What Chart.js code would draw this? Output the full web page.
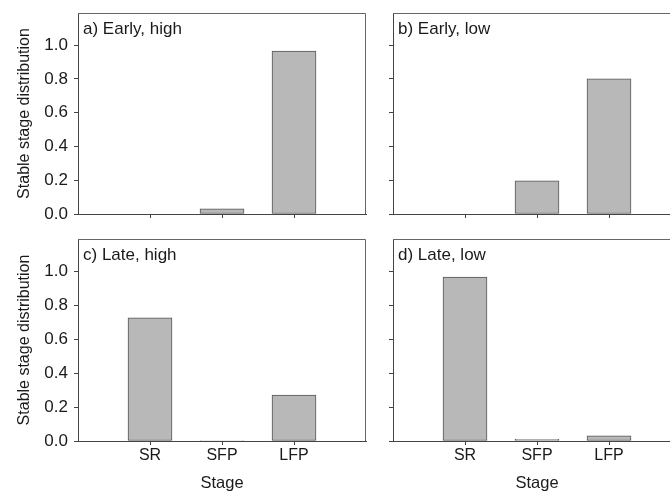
<!DOCTYPE html>
<html><head><meta charset="utf-8">
<script src="https://cdn.jsdelivr.net/npm/chart.js@4"></script>
<style>
html,body{margin:0;padding:0;background:#fff;overflow:hidden;width:670px;height:493px;position:relative}
canvas{position:absolute}
</style></head><body>
<canvas id="pa"></canvas><canvas id="pb"></canvas><canvas id="pc"></canvas><canvas id="pd"></canvas>
<script>
// ---- data ----
const stages = ['SR', 'SFP', 'LFP'];
const earlyHigh = [0, 0.03, 0.965];
const earlyLow  = [0, 0.197, 0.80];
const lateHigh  = [0.725, 0.003, 0.27];
const lateLow   = [0.965, 0.01, 0.03];
const panelLabels = ['a) Early, high', 'b) Early, low', 'c) Late, high', 'd) Late, low'];
const yTicks = [0, 0.2, 0.4, 0.6, 0.8, 1.0];
const yTitle = 'Stable stage distribution';
const xTitle = 'Stage';

const FONT = "'Liberation Sans', Arial, sans-serif";
const TXT = '#1a1a1a';
const AX = '#444';

const panels = [
  {id:'pa', vals:earlyHigh, label:panelLabels[0], left:0,   top:0,   w:370, h:230, yW:78, xH:16, pt:13, pr:4, yl:true,  xl:false},
  {id:'pb', vals:earlyLow,  label:panelLabels[1], left:380, top:0,   w:310, h:230, yW:13, xH:16, pt:13, pr:9, yl:false, xl:false},
  {id:'pc', vals:lateHigh,  label:panelLabels[2], left:0,   top:230, w:370, h:263, yW:78, xH:52, pt:9,  pr:4, yl:true,  xl:true},
  {id:'pd', vals:lateLow,   label:panelLabels[3], left:380, top:230, w:310, h:263, yW:13, xH:52, pt:9,  pr:9, yl:false, xl:true}
];

const framePlugin = {
  id:'frame',
  afterDraw(chart, args, opts){
    const {ctx, chartArea:a} = chart;
    ctx.save();
    ctx.strokeStyle = '#666';
    ctx.lineWidth = 1;
    ctx.beginPath();
    ctx.moveTo(a.left, a.top + 0.5); ctx.lineTo(a.right - 0.5, a.top + 0.5); ctx.lineTo(a.right - 0.5, a.bottom);
    ctx.stroke();
    ctx.fillStyle = TXT;
    ctx.font = '17px ' + FONT;
    ctx.textBaseline = 'alphabetic';
    ctx.textAlign = 'left';
    ctx.fillText(opts.text, a.left + 5, a.top + 21);
    ctx.restore();
  }
};

panels.forEach(p => {
  const cv = document.getElementById(p.id);
  cv.width = p.w; cv.height = p.h;
  cv.style.left = p.left + 'px'; cv.style.top = p.top + 'px';
  new Chart(cv, {
    type:'bar',
    data:{
      labels:['', ...stages, ''],
      datasets:[{
        data:[null, ...p.vals, null],
        backgroundColor:'#b8b8b8',
        borderColor:'#555',
        borderWidth:1,
        borderSkipped:false,
        barThickness:44
      }]
    },
    options:{
      responsive:false,
      animation:false,
      devicePixelRatio:1,
      layout:{padding:{top:p.pt, right:p.pr, left:0, bottom:0}},
      plugins:{legend:{display:false}, tooltip:{enabled:false}, frame:{text:p.label}},
      scales:{
        x:{
          type:'category',
          offset:false,
          afterFit: s => { s.height = p.xH; s.paddingLeft = 0; s.paddingRight = 0; },
          grid:{offset:false, drawOnChartArea:false, drawTicks:true, tickLength:4,
                tickColor: c => (c.index === 0 || c.index === 4) ? 'rgba(0,0,0,0)' : AX},
          border:{display:true, color:AX, width:1},
          ticks:{display:p.xl, color:TXT, font:{family:FONT, size:16}, padding:1, autoSkip:false, maxRotation:0},
          title:{display:p.xl, text:xTitle, color:TXT, font:{family:FONT, size:16.5}, padding:{top:0, bottom:0}}
        },
        y:{
          min:0, max:1.19,
          afterFit: s => { s.width = p.yW; s.paddingTop = 0; s.paddingBottom = 0; },
          afterBuildTicks: s => { s.ticks = yTicks.map(v => ({value:v})); },
          grid:{drawOnChartArea:false, drawTicks:true, tickLength:4, tickColor:AX},
          border:{display:true, color:AX, width:1},
          ticks:{display:p.yl, color:TXT, font:{family:FONT, size:17}, padding:6,
                 callback: v => Number(v).toFixed(1)},
          title:{display:p.yl, text:yTitle, color:TXT, font:{family:FONT, size:16}, padding:{top:15, bottom:0}}
        }
      }
    },
    plugins:[framePlugin]
  });
});
</script>
</body></html>
